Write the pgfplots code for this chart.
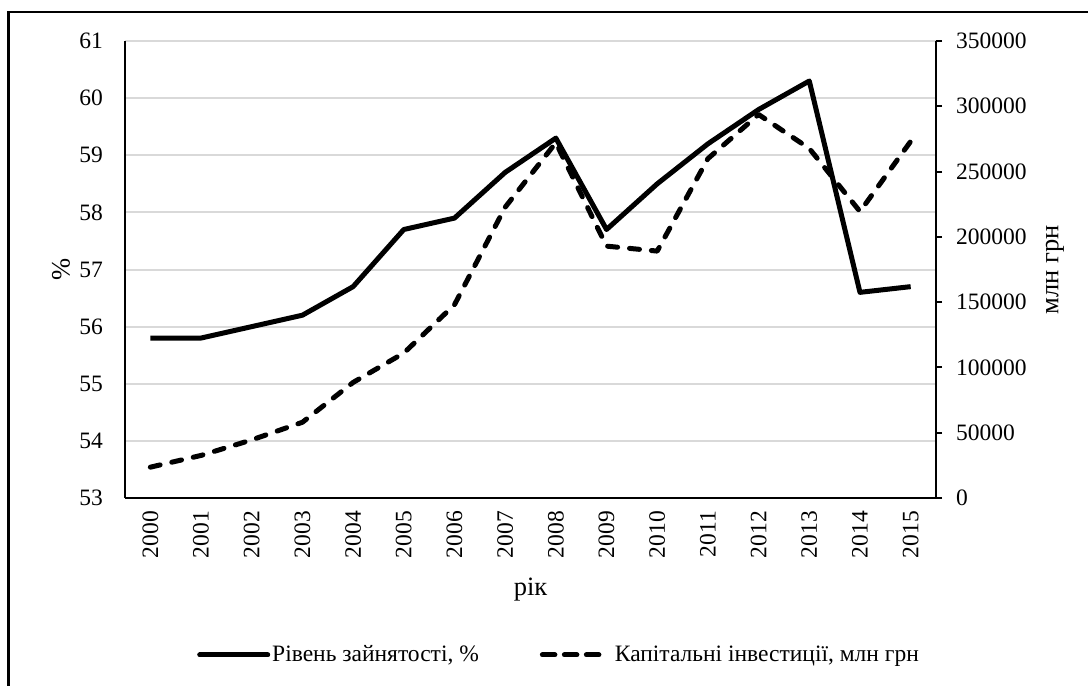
\documentclass[border=0pt]{standalone}
\usepackage{fontspec}
\setmainfont{Liberation Serif}
\usepackage{pgfplots}
\pgfplotsset{compat=1.18}
\pgfplotstableread{
x emp inv
0 55.8 23600
1 55.8 32600
2 56.0 44500
3 56.2 58000
4 56.7 88500
5 57.7 111000
6 57.9 148000
7 58.7 222700
8 59.3 272100
9 57.7 192900
10 58.5 189100
11 59.2 259900
12 59.8 293700
13 60.3 267700
14 56.6 219400
15 56.7 273100
}\datatable
\newcommand{\titlefont}{\fontsize{26.5bp}{31bp}\selectfont}
\begin{document}
\fontsize{23.5bp}{28bp}\selectfont
\begin{tikzpicture}
\useasboundingbox (0bp,0bp) rectangle (1088bp,686bp);
\draw[line width=2.5bp] (8.5bp,-10bp) -- (8.5bp,674bp) -- (1100bp,674bp);
\begin{axis}[
  at={(125bp,188bp)}, anchor=south west,
  scale only axis, width=811bp, height=457bp,
  xmin=-0.5, xmax=15.5, ymin=53, ymax=61,
  xtick={0,...,15},
  xticklabels={2000,2001,2002,2003,2004,2005,2006,2007,2008,2009,2010,2011,2012,2013,2014,2015},
  ytick={53,54,...,61},
  axis x line*=bottom, axis y line*=left,
  axis line style={line width=2bp, -},
  major tick length=0pt,
  ymajorgrids, grid style={line width=2bp, color=black!15},
  /pgf/number format/assume math mode=true,
  xticklabel style={yshift=-13bp, rotate=90, anchor=east, inner sep=0pt},
  yticklabel style={anchor=east, inner sep=0pt, xshift=-22bp},
  xlabel={рік},
  xlabel style={at={(axis description cs:0.5,-0.2123)}, anchor=base, font=\titlefont},
  ylabel={\%},
  ylabel style={at={(axis description cs:-0.079,0.5)}, anchor=center, font=\titlefont},
]
\addplot[black, line width=5bp, line join=round] table[x=x, y=emp] {\datatable};
\end{axis}
\begin{axis}[
  at={(125bp,188bp)}, anchor=south west,
  scale only axis, width=811bp, height=457bp,
  xmin=-0.5, xmax=15.5, ymin=0, ymax=350000,
  ytick={0,50000,100000,150000,200000,250000,300000,350000},
  axis x line=none, axis y line*=right,
  axis line style={line width=2bp, -},
  tick style={line width=2bp, black},
  major tick length=6bp, tick align=outside,
  scaled y ticks=false,
  yticklabel style={/pgf/number format/fixed, /pgf/number format/1000 sep={}, /pgf/number format/assume math mode=true, anchor=west, inner sep=0pt, xshift=14bp},
  ylabel={млн грн},
  ylabel style={at={(axis description cs:1.1468,0.5)}, anchor=center, rotate=0, font=\titlefont},
  legend columns=2,
  legend style={at={(axis description cs:0.0888,-0.3435)}, anchor=west, draw=none, inner sep=0pt,
    /tikz/every even column/.append style={column sep=59bp}},
  legend image code/.code={\draw[#1] (2.5bp,0bp) -- (65.5bp,0bp); \path (0bp,0bp) -- (68bp,0bp);},
]
\addlegendimage{black, line width=5bp, line cap=round}
\addlegendentry{Рівень зайнятості, \%}
\addlegendimage{black, line width=5bp, line cap=round, dash pattern=on 10bp off 12bp on 10bp off 12bp on 10bp off 100bp}
\addlegendentry{Капітальні інвестиції, млн грн}
\addplot[black, line width=5bp, line cap=round, line join=round, dash pattern=on 10bp off 12bp, forget plot] table[x=x, y=inv] {\datatable};
\end{axis}
\end{tikzpicture}
\end{document}
